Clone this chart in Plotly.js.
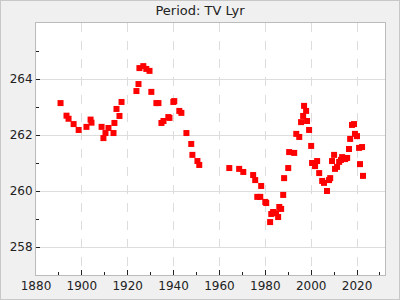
<!DOCTYPE html>
<html>
<head>
<meta charset="utf-8">
<script src="https://cdn.plot.ly/plotly-3.0.1.min.js"></script>
<style>
html,body{margin:0;padding:0;background:#f0f0f0;}
#wrap{position:relative;width:400px;height:300px;}
#chart{width:400px;height:300px;}
#frame{position:absolute;left:0;top:0;width:398px;height:298px;border:1px solid #c8c8c8;pointer-events:none;}
</style>
</head>
<body>
<div id="wrap"><div id="chart"></div><div id="frame"></div></div>
<script>
const years = [1890.7,1893.3,1894.2,1896.4,1898.6,1902.0,1903.8,1904.2,1908.6,1909.4,1910.3,1911.6,1913.8,1914.2,1915.1,1916.4,1917.3,1923.8,1924.7,1925.1,1926.8,1928.1,1929.5,1930.3,1932.5,1933.4,1934.7,1935.6,1937.7,1938.2,1939.9,1940.3,1942.5,1943.4,1945.6,1947.7,1948.2,1950.4,1951.2,1964.3,1968.6,1970.4,1974.7,1975.6,1978.2,1976.5,1977.8,1980.0,1980.4,1982.1,1982.6,1983.4,1984.7,1985.6,1986.1,1986.9,1987.8,1988.2,1990.0,1990.4,1992.6,1993.5,1994.8,1995.6,1996.5,1996.9,1997.8,1998.2,1999.1,2000.0,2000.4,2001.7,2002.6,2003.5,2004.8,2005.6,2006.9,2007.8,2008.3,2009.1,2010.0,2010.4,2011.3,2012.2,2013.0,2013.5,2014.8,2015.7,2016.5,2017.0,2017.8,2018.7,2019.1,2020.0,2020.9,2022.2,2021.3,2022.6];
const periods = [263.14,262.69,262.58,262.39,262.18,262.29,262.55,262.44,262.29,261.89,262.07,262.25,262.07,262.43,262.93,262.68,263.18,263.57,263.82,264.39,264.46,264.36,264.29,263.54,263.14,263.14,262.43,262.50,262.64,262.61,263.18,263.21,262.86,262.79,262.07,261.68,261.29,261.07,260.93,260.82,260.79,260.68,260.57,260.39,260.18,259.79,259.79,259.61,259.57,258.89,259.18,259.25,259.21,259.07,259.43,259.36,259.86,260.46,260.82,261.39,261.36,262.04,261.93,262.46,262.68,263.04,262.86,262.50,262.18,261.61,261.00,260.89,261.07,260.64,260.36,260.29,260.00,260.39,260.46,261.07,261.29,260.79,260.86,261.04,261.11,261.21,261.14,261.18,261.50,261.86,262.36,262.39,262.04,261.96,261.54,261.57,260.96,260.54];
const xTickVals = [1880,1900,1920,1940,1960,1980,2000,2020];
const xMinorVals = [1890,1910,1930,1950,1970,1990,2010,2030];
const yTickVals = [258,260,262,264];
const yMinorVals = [259,261,263,265];
const titleText = 'Period: TV Lyr';

const trace = {
  x: years, y: periods, type: 'scatter', mode: 'markers',
  marker: {symbol: 'square', size: 6, color: '#ff0000'},
  hoverinfo: 'none'
};
const layout = {
  width: 400, height: 300,
  paper_bgcolor: '#f0f0f0', plot_bgcolor: '#ffffff',
  margin: {l: 36, r: 15, t: 23, b: 25},
  font: {family: 'DejaVu Sans', size: 12, color: '#222'},
  title: {text: titleText, x: 0.5, xanchor: 'center', y: 0.965, yanchor: 'middle', font: {family: 'DejaVu Sans', size: 13, color: '#222'}},
  showlegend: false,
  xaxis: {
    range: [1880, 2032.2], tickmode: 'array', tickvals: xTickVals,
    ticks: 'inside', ticklen: 5, tickcolor: '#222', tickwidth: 1,
    showgrid: true, gridcolor: '#dddddd', griddash: 'dash', gridwidth: 1,
    showline: true, mirror: true, linecolor: '#bbbbbb', linewidth: 1,
    zeroline: false, tickfont: {size: 12},
    minor: {tickmode: 'array', tickvals: xMinorVals, ticks: 'inside', ticklen: 3, tickcolor: '#222', showgrid: false}
  },
  yaxis: {
    range: [257, 266], tickmode: 'array', tickvals: yTickVals,
    ticks: 'inside', ticklen: 4, tickcolor: '#222', tickwidth: 1,
    showgrid: true, gridcolor: '#dddddd', gridwidth: 1,
    showline: true, mirror: true, linecolor: '#bbbbbb', linewidth: 1,
    zeroline: false, tickfont: {size: 12},
    minor: {tickmode: 'array', tickvals: yMinorVals, ticks: 'inside', ticklen: 3, tickcolor: '#222', showgrid: false}
  }
};
Plotly.newPlot('chart', [trace], layout, {staticPlot: true, displayModeBar: false});
</script>
</body>
</html>
